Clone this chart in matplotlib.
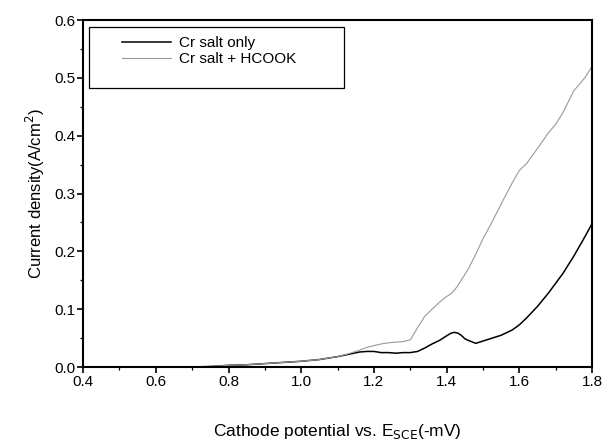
import matplotlib
matplotlib.use("Agg")
import matplotlib.pyplot as plt
from matplotlib.patches import Rectangle
from matplotlib.ticker import MultipleLocator

plt.rcParams['font.family'] = ['Liberation Sans', 'DejaVu Sans']

# potential (-mV) and current density (A/cm2)
pot = [0.40, 0.45, 0.50, 0.55, 0.60, 0.65, 0.70, 0.75, 0.80, 0.85, 0.90, 0.95,
       1.00, 1.05, 1.10, 1.13, 1.16, 1.18, 1.20, 1.22, 1.24, 1.26, 1.28, 1.30,
       1.32, 1.34, 1.36, 1.38, 1.40, 1.41, 1.42, 1.43, 1.44, 1.45, 1.46, 1.48,
       1.50, 1.52, 1.55, 1.58, 1.60, 1.62, 1.65, 1.68, 1.70, 1.72, 1.75, 1.78, 1.80]
cr_only = [0.000, -0.002, -0.001, 0.000, 0.000, 0.000, 0.000, 0.001, 0.003, 0.004, 0.006, 0.008,
           0.010, 0.013, 0.018, 0.022, 0.026, 0.027, 0.027, 0.025, 0.025, 0.024, 0.025, 0.025,
           0.027, 0.033, 0.040, 0.046, 0.054, 0.058, 0.060, 0.059, 0.055, 0.049, 0.046, 0.041,
           0.045, 0.049, 0.055, 0.064, 0.073, 0.085, 0.105, 0.128, 0.145, 0.162, 0.192, 0.225, 0.248]
cr_hcook = [0.000, -0.002, -0.001, 0.000, 0.000, 0.000, 0.000, 0.001, 0.003, 0.004, 0.006, 0.008,
            0.010, 0.013, 0.018, 0.023, 0.029, 0.034, 0.037, 0.040, 0.042, 0.043, 0.044, 0.047,
            0.068, 0.088, 0.100, 0.112, 0.122, 0.126, 0.132, 0.140, 0.150, 0.160, 0.170, 0.195,
            0.222, 0.245, 0.282, 0.318, 0.340, 0.352, 0.378, 0.405, 0.420, 0.440, 0.478, 0.500, 0.520]

fig = plt.figure(figsize=(6.11, 4.46), dpi=100)
ax = fig.add_axes([0.136, 0.177, 0.833, 0.778])

ax.plot(pot, cr_only, color='black', lw=1.1, label='Cr salt only')
ax.plot(pot, cr_hcook, color='#9a9a9a', lw=0.8, label='Cr salt + HCOOK')

ax.set_xlim(0.4, 1.8)
ax.set_ylim(0.0, 0.6)
ax.xaxis.set_major_locator(MultipleLocator(0.2))
ax.xaxis.set_minor_locator(MultipleLocator(0.1))
ax.yaxis.set_major_locator(MultipleLocator(0.1))
ax.yaxis.set_minor_locator(MultipleLocator(0.05))
ax.tick_params(which='major', direction='out', length=4, width=1.2, labelsize=11, pad=1.5)
ax.tick_params(which='minor', direction='out', length=2.5, width=0.9)
for s in ax.spines.values():
    s.set_linewidth(1.5)

ax.set_xlabel('Cathode potential vs. E$_{\\mathrm{SCE}}$(-mV)', fontsize=12.5, labelpad=24)
ax.set_ylabel('Current density(A/cm$^{2}$)', fontsize=12, labelpad=5)

# legend box drawn separately so it can be wider than its contents
ax.add_patch(Rectangle((0.012, 0.805), 0.5, 0.175, transform=ax.transAxes,
                       fill=False, edgecolor='black', lw=0.9, zorder=3))
ax.legend(loc='upper left', bbox_to_anchor=(0.065, 0.972), frameon=False,
          fontsize=11, handlelength=3.2, handletextpad=0.5, labelspacing=0.15,
          borderaxespad=0)

fig.savefig('out.png', dpi=100)
